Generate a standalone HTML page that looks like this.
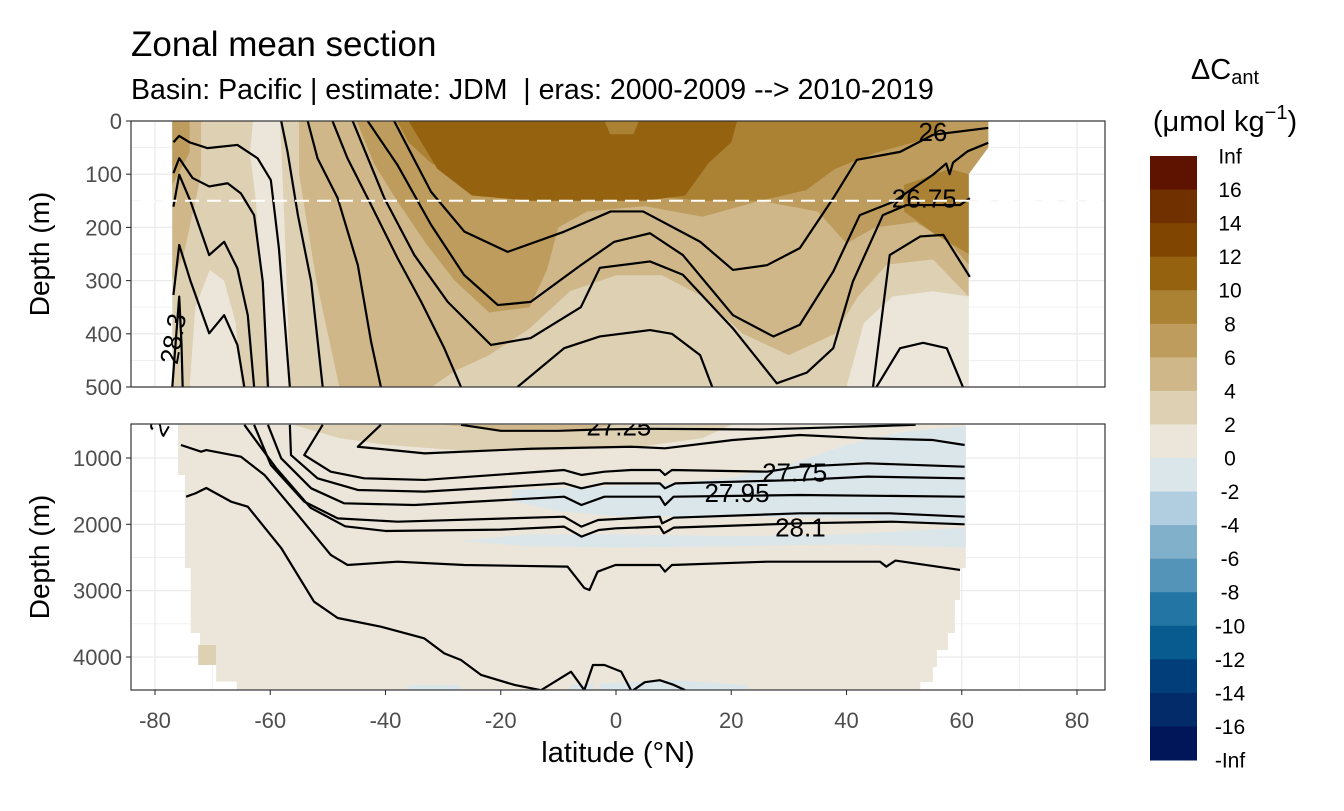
<!DOCTYPE html>
<html><head><meta charset="utf-8"><style>
body{margin:0;background:#fff;font-family:"Liberation Sans",sans-serif}
svg text{font-family:"Liberation Sans","DejaVu Sans",sans-serif}
</style></head><body>
<svg id="c" width="1344" height="806" viewBox="0 0 1344 806" xmlns="http://www.w3.org/2000/svg">
<defs>
<clipPath id="clipTop"><rect x="131" y="121" width="974" height="266"/></clipPath>
<clipPath id="clipBot"><rect x="131" y="424" width="974" height="266"/></clipPath>
</defs>
<text x="131" y="56" font-size="35" fill="#000">Zonal mean section</text>
<text x="131" y="99" font-size="28.5" fill="#000">Basin: Pacific | estimate: JDM&#160; | eras: 2000-2009 --&gt; 2010-2019</text>
<g id="gTop"></g>
<g id="gBot"></g>
<g id="gAxes"></g>
<g id="gLegend"></g>
</svg>
<script>
// ---- data ----
const latTicks = [-80,-60,-40,-20,0,20,40,60,80];
const topDepthTicks = [0,100,200,300,400,500];
const botDepthTicks = [1000,2000,3000,4000];
const legendLabels = ["Inf","16","14","12","10","8","6","4","2","0","-2","-4","-6","-8","-10","-12","-14","-16","-Inf"];
const legendColors = ["#5e1300","#713000","#804500","#956310","#ab8133","#bd9c5d","#cfb789","#ddd0b3","#ece6da","#dbe6ea","#b1cde0","#81b0cb","#5494b8","#2375a3","#085b8f","#023f7a","#032a69","#011559"];
const mldDepth = 150;

// filled regions: [colorIndex, polygon of [lat,depth]]
const topFillLevels = [7,8,8,8,6,6,5,5,4,4,3];
const topFillPolys = [
 [[-77,0],[64.6,0],[64.6,50],[62.5,70],[61.2,90],[61.2,500],[-77,500]],
 [[-63,0],[-58.3,0],[-57.5,200],[-56.5,500],[-60,500],[-61.5,300],[-62.5,150],[-63.5,60]],
 [[-74,500],[-73,350],[-70.5,280],[-68,300],[-66,380],[-65,500]],
 [[40,500],[43,380],[48,330],[55,320],[61.2,330],[61.2,500]],
 [[-55,0],[64.6,0],[64.6,50],[61.2,90],[61.2,330],[55,260],[47,270],[42,330],[38,400],[30,440],[22,400],[15,330],[8,290],[0,290],[-8,320],[-15,390],[-22,440],[-28,470],[-32,500],[-48,500],[-52,300],[-55,100]],
 [[-77,0],[-72,0],[-72,100],[-75,250],[-77,300]],
 [[-45,0],[64.6,0],[64.6,50],[61.2,100],[61.2,270],[58,230],[52,190],[45,200],[40,230],[35,170],[25,150],[15,180],[5,160],[-5,170],[-10,200],[-12,280],[-15,350],[-22,360],[-28,300],[-33,230],[-38,150],[-42,80]],
 [[-77,0],[-74,0],[-74,60],[-77,120]],
 [[-38,0],[57,0],[55,30],[45,60],[38,90],[33,130],[25,150],[15,150],[5,140],[-5,130],[-15,120],[-25,110],[-32,80],[-36,40]],
 [[50,120],[58,90],[61.2,100],[61.2,250],[55,210],[50,170]],
 [[-36,0],[-2,0],[-1,25],[3,25],[4,0],[21,0],[20,40],[16,80],[12,140],[5,150],[-5,150],[-15,150],[-25,140],[-31,90]]
];
const botFillLevels = [8,7,6,7,9,9,9,9,9];
const botFillPolys = [
 [[-76,500],[60.7,500],[60.7,2658],[59.7,2658],[59.7,3141],[58.8,3141],[58.8,3638],[57.6,3638],[57.6,3895],[55.7,3895],[55.7,4150],[55,4150],[55,4377],[52.8,4377],[52.8,4500],[-65.8,4500],[-65.8,4372],[-69.4,4372],[-69.4,4120],[-72.2,4120],[-72.2,3638],[-73.8,3638],[-73.8,2658],[-74.8,2658],[-74.8,1256],[-76,1256]],
 [[-56,500],[20,500],[15,700],[5,820],[-10,880],[-25,900],[-40,800],[-48,700]],
 [[-30,500],[0,500],[-5,560],[-20,570]],
 [[-72.5,3820],[-69.4,3820],[-69.4,4120],[-72.5,4120]],
 [[-27,2250],[-15,2150],[0,2150],[20,2180],[40,2150],[60.7,2050],[60.7,2350],[40,2300],[20,2330],[0,2350],[-15,2330]],
 [[-18,1480],[-5,1440],[10,1380],[20,1300],[30,1100],[40,800],[50,600],[60.7,520],[60.7,2000],[40,1900],[20,1880],[0,1880],[-10,1800],[-18,1650]],
 [[-36,4420],[-27,4420],[-27,4500],[-36,4500]],
 [[-2.8,4400],[10,4350],[22.8,4420],[22.8,4500],[-2.8,4500]],
 [[-8,4420],[-4,4400],[-4,4500],[-8,4500]]
];

// contour lines [lat, depth]
const topLines = [
 [[-38.5,0],[-32.1,133],[-26.3,208],[-18.8,246],[-9,208],[-0.9,170],[4.7,170],[14.6,227],[20.3,280],[26.2,271],[31.9,239],[37.7,145],[41.8,73],[49.3,58],[55,26],[64.6,13]],
 [[-43.1,0],[-37.9,83],[-32.1,195],[-26.4,289],[-20.5,346],[-14.8,340],[-6.1,271],[-0.3,227],[5.9,211],[11.6,252],[20.3,365],[27.3,405],[31.9,383],[37.7,283],[42.3,177],[48.1,152],[55,101],[57.3,80],[57.9,100],[58.5,78],[61,57],[64.6,41]],
 [[-45.7,0],[-40.2,145],[-35,252],[-29.2,340],[-21.7,421],[-14.8,408],[-6.1,350],[-2.8,276],[5.9,264],[11.6,289],[20.3,390],[27.9,493],[33.1,473],[37.7,427],[41.1,302],[46.3,177],[50.4,158],[59.7,158],[61.4,145]],
 [[-49.2,0],[-46.6,70],[-42.5,158],[-37.9,258],[-33.8,340],[-29.8,427],[-26.9,500]],
 [[-17.1,500],[-9,427],[-2.8,405],[5.9,393],[9.7,400],[14.6,440],[16.7,500]],
 [[-53.5,0],[-51.8,70],[-48.3,145],[-44.8,271],[-42.5,415],[-40.8,500]],
 [[-58.1,0],[-57,58],[-55.2,177],[-52.9,302],[-50.9,500]],
 [[-76.8,40],[-75.8,28],[-74,40],[-70.9,51],[-65.7,45],[-62.2,70],[-59.9,111],[-58.5,239],[-56.6,500]],
 [[-76.8,98],[-75.8,70],[-73.5,107],[-70.6,123],[-67.4,117],[-65.1,136],[-62.8,177],[-61.3,302],[-60.4,500]],
 [[-76.8,161],[-75.8,101],[-73.8,152],[-70.6,252],[-68,227],[-65.7,277],[-63.9,365],[-62.8,500]],
 [[-76.8,327],[-75.8,233],[-73.8,302],[-70.6,399],[-68,365],[-65.7,421],[-64.5,500]],
 [[-77,500],[-76.3,400],[-75.8,330],[-75.4,420],[-75.2,500]],
 [[44.6,500],[47.5,252],[52.8,217],[56.8,214],[61.4,293]],
 [[45.2,500],[49.3,427],[53.3,417],[57.4,427],[60.2,500]]
];
const botLines = [
 [[-26.9,500],[-20,590],[-10,590],[-3,570],[5,560],[15,565],[25,570],[35,545],[45,520],[52,500]],
 [[-40.8,500],[-44.8,830],[-33.2,930],[-14.8,860],[2.6,830],[8.5,854],[20.3,729],[31.9,653],[43.6,703],[55,729],[60.5,804]],
 [[-50.9,500],[-54.1,955],[-49.5,1206],[-43.7,1306],[-33.2,1331],[-9,1181],[-6,1256],[-2,1206],[2.6,1181],[7.6,1181],[8.5,1256],[9.7,1181],[26.2,1206],[31.9,1131],[43.6,1080],[60.5,1131]],
 [[-56.6,500],[-56.4,955],[-51.8,1306],[-44.8,1482],[-33.2,1507],[-9,1382],[-6,1457],[-2,1382],[7.6,1382],[8.5,1457],[10.3,1382],[31.9,1331],[43.6,1281],[60.5,1306]],
 [[-60.4,500],[-58.1,1005],[-52.9,1457],[-47.2,1683],[-35,1709],[-9,1583],[-6,1709],[-2,1583],[7.6,1583],[8.5,1709],[10,1583],[31.9,1558],[60.5,1583]],
 [[-62.8,500],[-59.9,1105],[-54.1,1658],[-48.3,1910],[-37.9,1960],[-9,1885],[-6,2035],[-3.1,1935],[7.6,1885],[8,1985],[10,1900],[31.9,1834],[47.5,1834],[60.5,1885]],
 [[-64.5,500],[-59,1150],[-53,1750],[-47,2030],[-40,2100],[-20,2080],[-9,2035],[-6,2185],[-3,2085],[0,2060],[7.6,2035],[8.3,2135],[10,2050],[32,1985],[48,1960],[60.5,2000]],
 [[-75.5,804],[-72,905],[-71.1,880],[-65.1,980],[-61,1256],[-55.2,1859],[-49.5,2462],[-46.6,2613],[-37.9,2563],[-26.3,2613],[-8.4,2638],[-5.5,2960],[-4.6,2990],[-3.2,2714],[-0.1,2613],[7.6,2613],[8.5,2713],[9.7,2613],[26.2,2563],[45.8,2563],[46.9,2638],[48.5,2546],[59.7,2688]],
 [[-74.6,1583],[-73,1533],[-71.1,1452],[-66.8,1658],[-63.9,1734],[-58.1,2357],[-52.4,3166],[-48.3,3412],[-40.8,3543],[-33.3,3718],[-29.8,3945],[-26.9,4045],[-23.4,4271],[-17.6,4422],[-13,4500],[-7.8,4222],[-5.5,4500],[-4,4121],[-2,4121],[0.9,4221],[2.6,4500]],
 [[3,4500],[5,4380],[7.6,4350],[10,4420],[12,4500]]
];
const topLabels = [["26",55,25,0],["26.75",53.5,150,0],["28.3",-76.5,410,-80]];
const botLabels = [["27.25",0.5,560,0],["27.75",31,1250,0],["27.95",21,1560,0],["28.1",32,2080,0],["2",-79,555,-60]];

// ---- scales ----
const X0=131, X1=1105;
function xs(lat){return 616 + lat*5.7625;}
function yTop(d){return 121 + d*0.532;}
function yBot(d){return 458 + (d-1000)*0.06633;}
const NS="http://www.w3.org/2000/svg";
function mk(tag,attrs,parent){const e=document.createElementNS(NS,tag);for(const k in attrs)e.setAttribute(k,attrs[k]);parent.appendChild(e);return e;}

function drawPanel(g, yf, top, clipId, gridMaj, gridMin, fillPolys, fillLevels, lines, labels){
  const r=mk('rect',{x:X0,y:top,width:X1-X0,height:266,fill:'#fff'},g);
  
  
  const grid=mk('g',{},g);
  
  
  for(let lat=-90;lat<=90;lat+=10){
    const x=xs(lat); if(x<X0||x>X1)continue;
    mk('line',{x1:x,x2:x,y1:top,y2:top+266,stroke:'#ebebeb','stroke-width':(lat%20===0)?1.3:0.7},grid);
  }
  gridMaj.forEach(d=>{const y=yf(d);mk('line',{x1:X0,x2:X1,y1:y,y2:y,stroke:'#ebebeb','stroke-width':1.3},grid);});
  gridMin.forEach(d=>{const y=yf(d);mk('line',{x1:X0,x2:X1,y1:y,y2:y,stroke:'#ebebeb','stroke-width':0.7},grid);});
  const data=mk('g',{'clip-path':'url(#'+clipId+')'},g);
  fillPolys.forEach((p,i)=>{
    const el=mk('polygon',{points:p.map(q=>xs(q[0])+','+yf(q[1])).join(' '),fill:legendColors[fillLevels[i]]},data);
    
    
  });
  lines.forEach(l=>{
    const el=mk('polyline',{points:l.map(q=>xs(q[0])+','+yf(q[1])).join(' '),fill:'none',stroke:'#000','stroke-width':2.2,'stroke-linejoin':'round'},data);
    
    
  });
  labels.forEach(l=>{
    const x=xs(l[1]),y=yf(l[2]);
    const t=mk('text',{x:x,y:y,'font-size':26,'text-anchor':'middle','dominant-baseline':'middle',transform:'rotate('+l[3]+' '+x+' '+y+')',fill:'#000'},data);
    t.textContent=l[0];
    
    
  });
  return data;
}
const gTop=document.getElementById('gTop'), gBot=document.getElementById('gBot');
const dTop=drawPanel(gTop,yTop,121,'clipTop',topDepthTicks,[50,150,250,350,450],topFillPolys,topFillLevels,topLines,topLabels);
const mld=mk('line',{x1:X0+10,x2:X1,y1:yTop(mldDepth),y2:yTop(mldDepth),stroke:'#fff','stroke-width':2,'stroke-dasharray':'14 8'},dTop);


drawPanel(gBot,yBot,424,'clipBot',botDepthTicks,[1500,2500,3500,4500],botFillPolys,botFillLevels,botLines,botLabels);
[121,424].forEach(t=>{const b=mk('rect',{x:X0,y:t,width:X1-X0,height:266,fill:'none',stroke:'#333','stroke-width':1.2},document.getElementById('gAxes'));
  
  });

// axes
const gA=document.getElementById('gAxes');
function tickY(yf,ticks,name){ticks.forEach(d=>{const y=yf(d);
  mk('line',{x1:X0-5,x2:X0,y1:y,y2:y,stroke:'#333','stroke-width':1.1},gA);
  const t=mk('text',{x:X0-9,y:y+8,'font-size':22,'text-anchor':'end',fill:'#4d4d4d'},gA);t.textContent=d;
  
  });}
tickY(yTop,topDepthTicks,'top-y-tick-label');
tickY(yBot,botDepthTicks,'bottom-y-tick-label');
latTicks.forEach(l=>{const x=xs(l);
  mk('line',{x1:x,x2:x,y1:690,y2:695,stroke:'#333','stroke-width':1.1},gA);
  const t=mk('text',{x:x,y:728,'font-size':22,'text-anchor':'middle',fill:'#4d4d4d'},gA);t.textContent=l;
  
  });
const xt=mk('text',{x:618,y:762,'font-size':29,'text-anchor':'middle',fill:'#000'},gA);xt.textContent='latitude (°N)';


[[254,'top-y-axis-title'],[557,'bottom-y-axis-title']].forEach(a=>{
  const t=mk('text',{x:49,y:a[0],'font-size':28,'text-anchor':'middle',transform:'rotate(-90 49 '+a[0]+')',fill:'#000'},gA);t.textContent='Depth (m)';
  
  });

// legend
const gL=document.getElementById('gLegend');
const lt=mk('text',{x:1225,y:79,'font-size':29,'text-anchor':'middle',fill:'#000'},gL);
lt.innerHTML='ΔC<tspan font-size="20" dy="5">ant</tspan>';


const lu=mk('text',{x:1225,y:131,'font-size':29,'text-anchor':'middle',fill:'#000'},gL);
lu.innerHTML='(μmol kg<tspan font-size="20" dy="-12">−1</tspan><tspan dy="12">)</tspan>';


const bh=(760-156)/legendColors.length;
legendColors.forEach((c,i)=>{const r=mk('rect',{x:1150,y:156+i*bh,width:47,height:bh+0.5,fill:c},gL);
  
  });
legendLabels.forEach((s,i)=>{const t=mk('text',{x:1230,y:156+i*bh+7.5,'font-size':21,'text-anchor':'middle',fill:'#000'},gL);t.textContent=s;
  
  });
</script>
</body></html>
